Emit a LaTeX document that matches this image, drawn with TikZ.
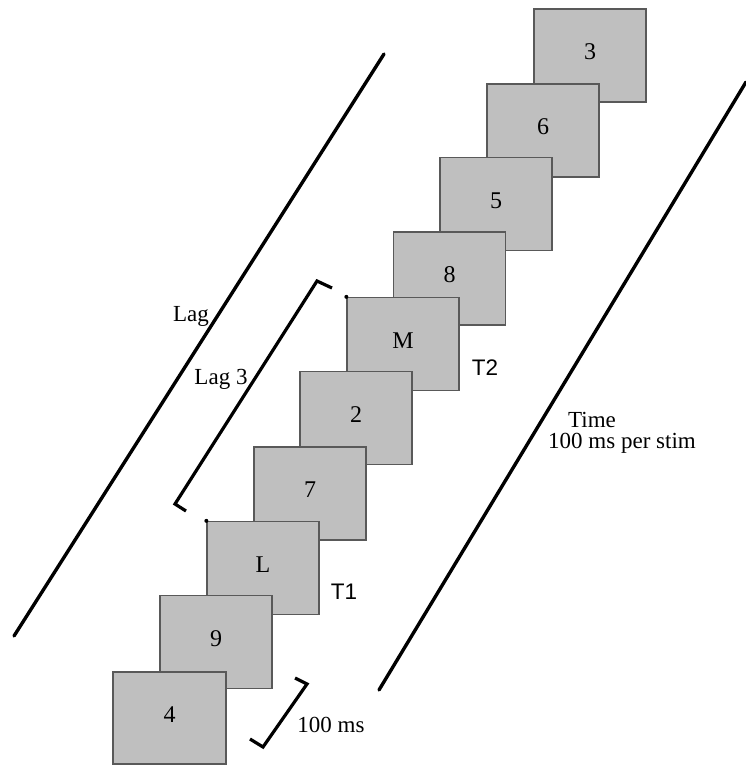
\documentclass[tikz,border=0pt]{standalone}
\usepackage{fontspec}
\setmainfont{Liberation Serif}
\newfontfamily\arialf{Liberation Sans}
\begin{document}
\begin{tikzpicture}[x=1pt,y=-1pt,
  stim/.style={draw=black!65, fill=black!25, line width=1.3pt, minimum width=112pt, minimum height=93pt, inner sep=0pt, font=\fontsize{24}{27}\selectfont, text height=16pt, text depth=8pt, anchor=center},
  lbl/.style={font=\fontsize{23}{26}\selectfont, inner sep=0pt},
  sanslbl/.style={font=\arialf\fontsize{22.5}{26}\selectfont, inner sep=0pt},
  thickline/.style={line width=3.4pt, line cap=round},
  bracketline/.style={line width=3.2pt, line join=miter}]
\useasboundingbox (0,0) rectangle (746,766);
% stimuli, back to front
\node[stim] (b3) at (590,55.5) {3};
\node[stim] (b6) at (543,130.5) {6};
\node[stim] (b5) at (496,204) {5};
\node[stim] (b8) at (449.5,278.5) {8};
\node[stim] (bM) at (403,344) {M};
\node[stim] (b2) at (356,418) {2};
\node[stim] (b7) at (310,493.5) {7};
\node[stim] (bL) at (263,568) {L};
\node[stim] (b9) at (216,642) {9};
\node[stim, minimum width=113pt, minimum height=92pt] (b4) at (169.5,718) {4};
% dots at top-left corners of targets
\fill (bM.north west) circle (2pt);
\fill (bL.north west) circle (2pt);
% long lines
\coordinate (la) at (14,636);
\coordinate (lb) at (384,54);
\coordinate (ra) at (379,690);
\coordinate (rb) at (746,82);
\draw[thickline] (la) -- (lb);
\draw[thickline] (ra) -- (rb);
% Lag 3 bracket
\coordinate (g1) at (332,288);
\coordinate (g2) at (317,281);
\coordinate (g3) at (175,504);
\coordinate (g4) at (186,511);
\draw[bracketline] (g1) -- (g2) -- (g3) -- (g4);
% 100 ms bracket
\coordinate (h1) at (295,678);
\coordinate (h2) at (307,684);
\coordinate (h3) at (263,747);
\coordinate (h4) at (250,739);
\draw[bracketline] (h1) -- (h2) -- (h3) -- (h4);
% labels
\node[lbl] (lag) at (191,316) {Lag};
\node[lbl] (lag3) at (221,379) {Lag 3};
\node[lbl, text depth=0pt, anchor=base] (time) at (592,427) {Time};
\node[lbl, text height=11pt, anchor=base] (per) at (622,448) {100 ms per stim};
\node[lbl] (ms) at (331,725) {100 ms};
\node[sanslbl] (t2) at (485,368) {T2};
\node[sanslbl] (t1) at (344,592) {T1};
\end{tikzpicture}
\end{document}
